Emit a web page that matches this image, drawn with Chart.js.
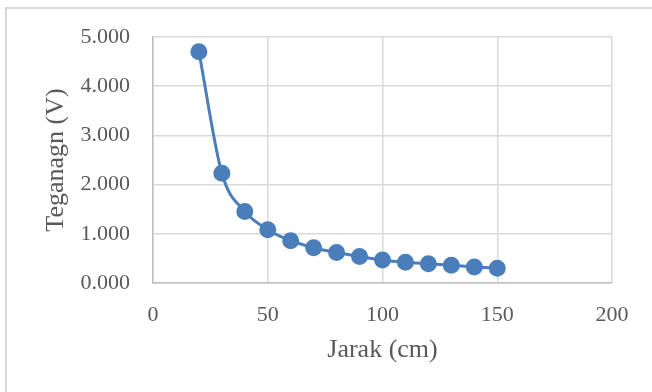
<!DOCTYPE html>
<html>
<head>
<meta charset="utf-8">
<script src="https://cdn.jsdelivr.net/npm/chart.js@4.4.1/dist/chart.umd.min.js"></script>
<style>
  html, body { margin: 0; padding: 0; background: #fff; }
  #wrap { width: 652px; height: 392px; position: relative; }
</style>
</head>
<body>
<div id="wrap"><canvas id="grafik" width="652" height="392"></canvas></div>
<script>
// Jarak (cm) dan tegangan (V)
const jarak = [20, 30, 40, 50, 60, 70, 80, 90, 100, 110, 120, 130, 140, 150];
const tegangan = [4.70, 2.23, 1.455, 1.083, 0.86, 0.717, 0.62, 0.54, 0.467, 0.42, 0.39, 0.36, 0.325, 0.30];
const ticksX = [0, 50, 100, 150, 200];
const ticksY = [0, 1, 2, 3, 4, 5];

const warnaTeks = "#595959";
const fontSerif = "'Liberation Serif', 'Times New Roman', serif";

// Bingkai abu-abu di sekeliling area grafik
const bingkai = {
  id: "bingkai",
  beforeDraw(chart) {
    const ctx = chart.ctx;
    ctx.save();
    ctx.fillStyle = "#fff";
    ctx.fillRect(0, 0, chart.width, chart.height);
    ctx.strokeStyle = "#d9d9d9";
    ctx.lineWidth = 2;
    ctx.strokeRect(6, 8, chart.width + 10, chart.height + 10);
    ctx.restore();
  }
};

const titik = jarak.map((x, i) => ({ x: x, y: tegangan[i] }));

new Chart(document.getElementById("grafik"), {
  type: "scatter",
  data: {
    datasets: [{
      data: titik,
      showLine: true,
      borderColor: "#4a7ebb",
      backgroundColor: "#4a7ebb",
      borderWidth: 3,
      pointRadius: 7,
      pointHoverRadius: 7,
      cubicInterpolationMode: "monotone"
    }]
  },
  options: {
    responsive: false,
    animation: false,
    layout: { padding: { top: 37, right: 40, left: 0, bottom: 0 } },
    plugins: {
      legend: { display: false },
      tooltip: { enabled: false }
    },
    scales: {
      x: {
        type: "linear",
        min: 0,
        max: 200,
        afterBuildTicks: (s) => { s.ticks = ticksX.map(v => ({ value: v })); },
        afterFit: (s) => { s.height = 109; },
        grid: { color: "#d9d9d9", lineWidth: 1.5, drawTicks: false },
        border: { color: "#bfbfbf", width: 1.5 },
        ticks: {
          padding: 19,
          color: warnaTeks,
          font: { family: fontSerif, size: 22 }
        },
        title: {
          display: true,
          text: "Jarak (cm)",
          color: warnaTeks,
          font: { family: fontSerif, size: 26, lineHeight: 1.2 },
          padding: { top: 0, bottom: 26 }
        }
      },
      y: {
        type: "linear",
        min: 0,
        max: 5,
        afterBuildTicks: (s) => { s.ticks = ticksY.map(v => ({ value: v })); },
        afterFit: (s) => { s.width = 153; },
        grid: { color: "#d9d9d9", lineWidth: 1.5, drawTicks: false },
        border: { color: "#bfbfbf", width: 1.5 },
        ticks: {
          padding: 23,
          color: warnaTeks,
          font: { family: fontSerif, size: 22 },
          callback: (v) => v.toFixed(3)
        },
        title: {
          display: true,
          text: "Teganagn (V)",
          color: warnaTeks,
          font: { family: fontSerif, size: 26, lineHeight: 1.2 },
          padding: { top: 41, bottom: 0 }
        }
      }
    }
  },
  plugins: [bingkai]
});
</script>
</body>
</html>
